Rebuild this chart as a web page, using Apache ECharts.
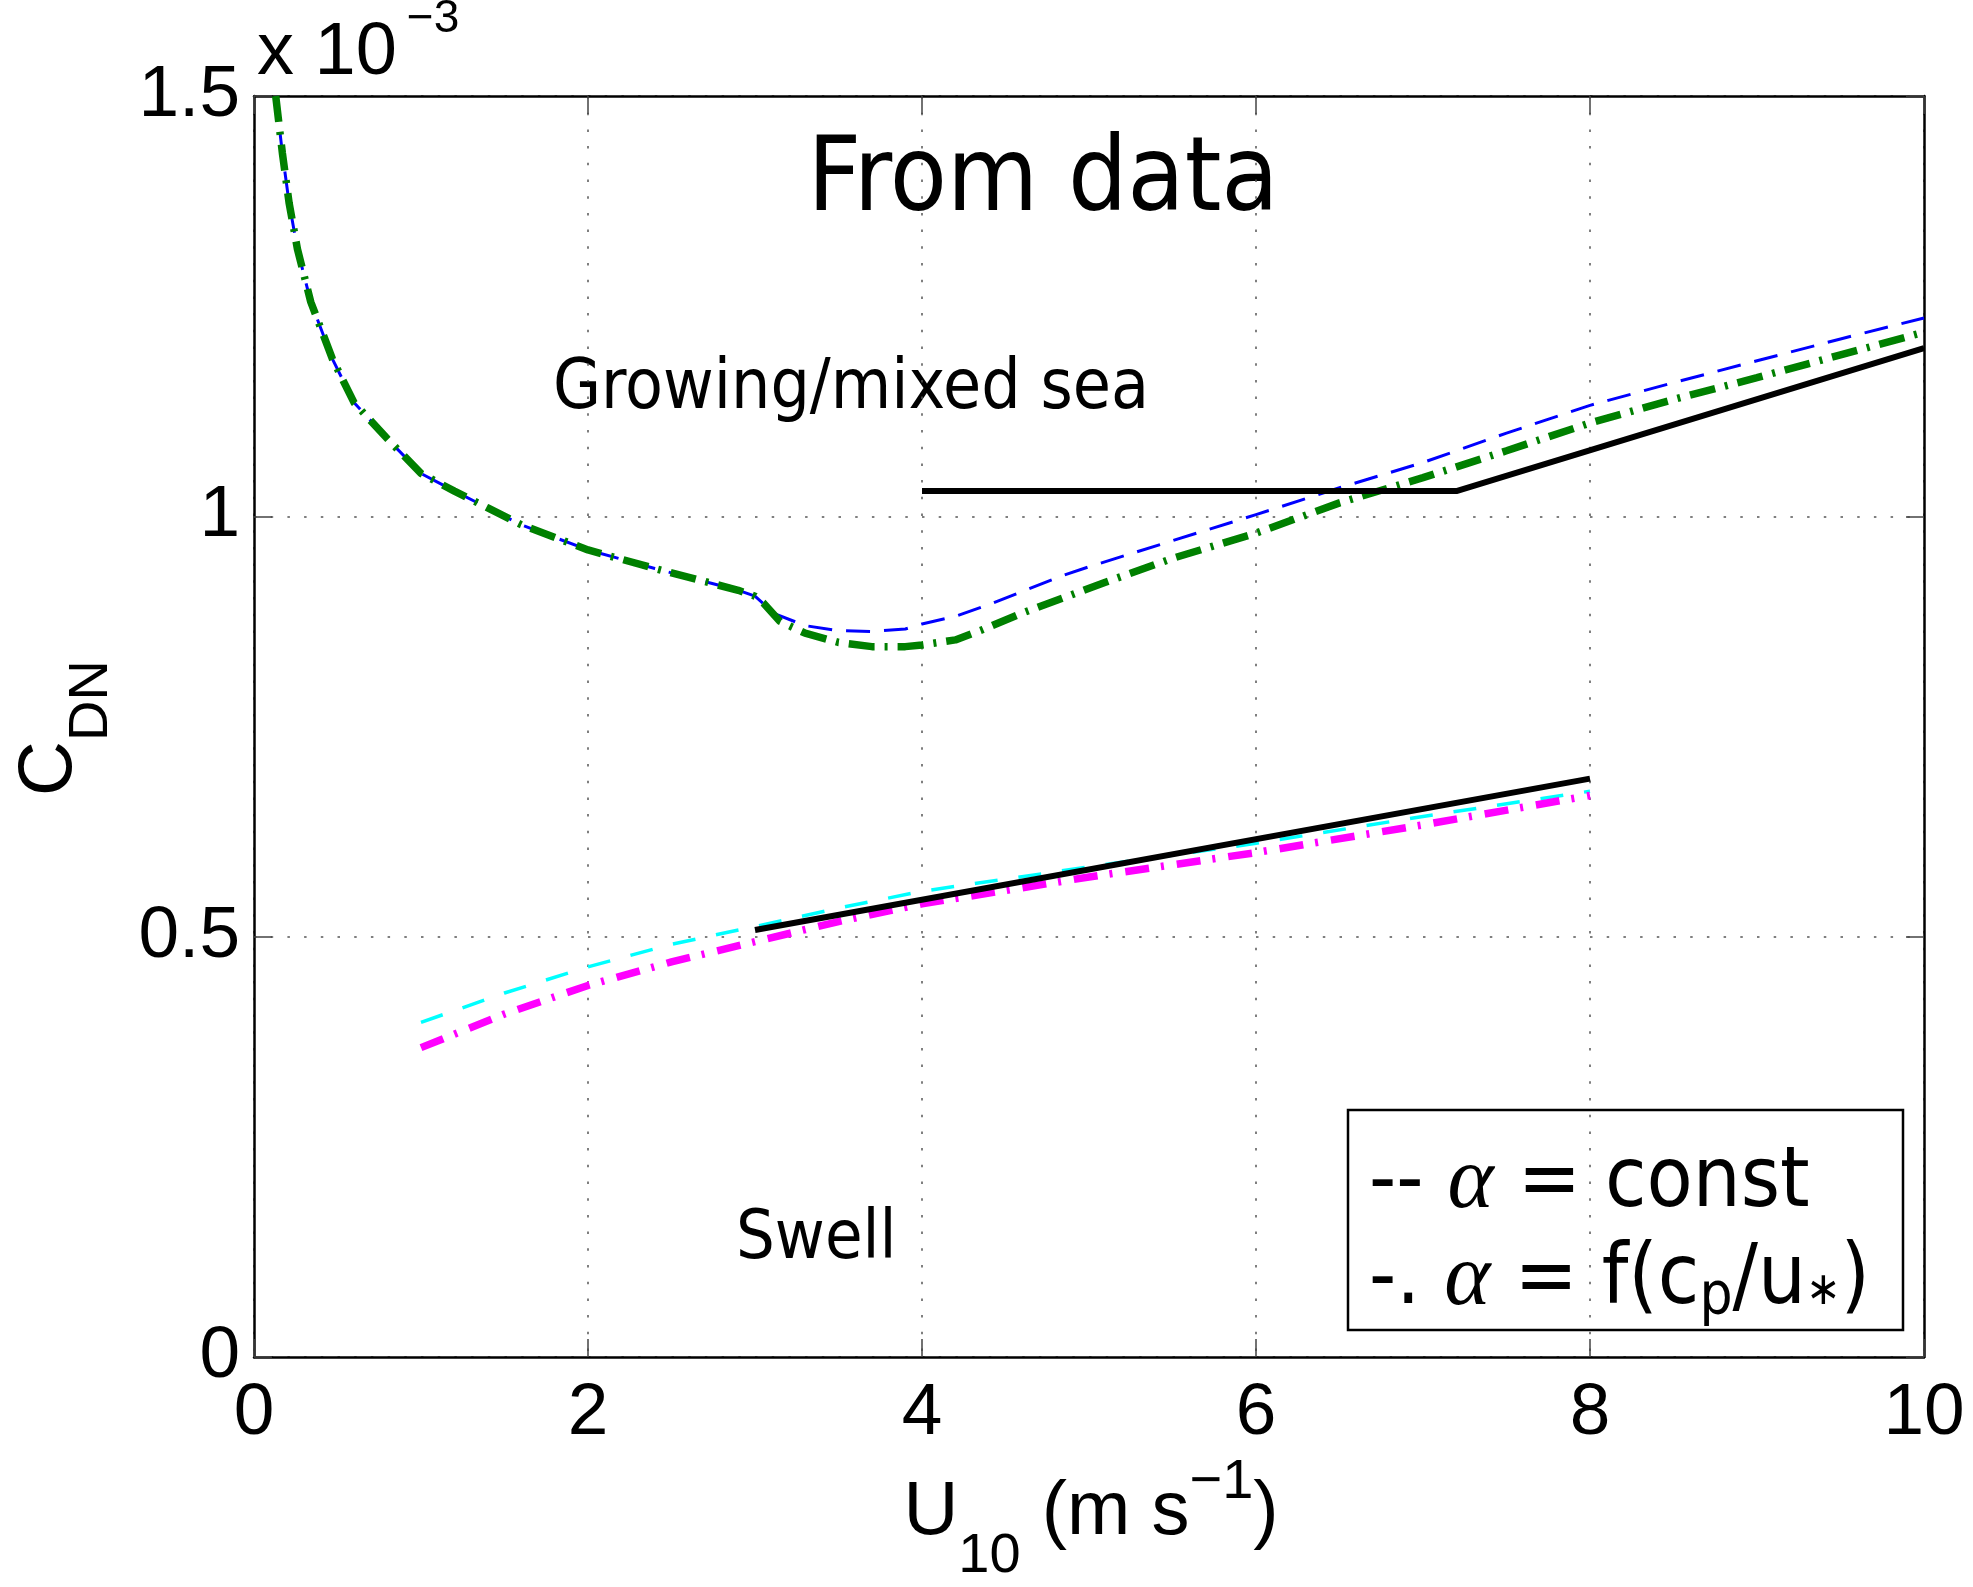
<!DOCTYPE html>
<html>
<head>
<meta charset="utf-8">
<title>CDN from data</title>
<script src="https://cdn.jsdelivr.net/npm/echarts@6/dist/echarts.min.js"></script>
<style>
html, body { margin: 0; padding: 0; background: #fff; }
#container { width: 1973px; height: 1587px; }
</style>
</head>
<body>
<div id="container"></div>
<script>
// U10 (m/s) against neutral drag coefficient CDN (units of 1e-3)
var growConstX = [0.13, 0.17, 0.21, 0.26, 0.34, 0.47, 0.6, 0.8, 1.0, 1.2, 1.4, 1.6, 2.0, 2.4, 2.9, 3.0,
	3.12, 3.3, 3.5, 3.7, 3.9, 4.0, 4.2, 4.4, 4.85, 5.0, 5.5, 6.0, 6.5, 7.0, 7.5, 8.0, 8.5, 9.0, 9.5, 10];
var growConstY = [1.5, 1.432, 1.373, 1.318, 1.255, 1.187, 1.135, 1.092, 1.051, 1.03, 1.01, 0.99, 0.96, 0.938, 0.912, 0.905,
	0.884, 0.87, 0.864, 0.863, 0.866, 0.872, 0.881, 0.895, 0.93, 0.94, 0.971, 1.002, 1.034, 1.064, 1.099, 1.132, 1.159, 1.185, 1.211, 1.236];

var growFuncX = [0.13, 0.17, 0.21, 0.26, 0.34, 0.47, 0.6, 0.8, 1.0, 1.2, 1.4, 1.6, 2.0, 2.4, 2.9, 3.0,
	3.05, 3.15, 3.3, 3.5, 3.7, 3.9, 4.0, 4.2, 4.36, 4.6, 5.09, 5.5, 6.0, 6.5, 7.0, 7.5, 8.0, 8.5, 9.0, 9.5, 10];
var growFuncY = [1.5, 1.432, 1.373, 1.318, 1.255, 1.187, 1.135, 1.092, 1.051, 1.03, 1.01, 0.99, 0.96, 0.938, 0.912, 0.905,
	0.897, 0.875, 0.861, 0.85, 0.845, 0.845, 0.847, 0.853, 0.865, 0.885, 0.921, 0.95, 0.98, 1.016, 1.046, 1.078, 1.111, 1.139, 1.165, 1.192, 1.219];

var growDataX = [4, 7.2, 10];
var growDataY = [1.03, 1.03, 1.2];

var swellX = [1.0, 1.5, 2.0, 2.5, 3.0, 3.5, 4.0, 5.0, 6.0, 7.0, 8.0];
var swellConstY = [0.398, 0.433, 0.464, 0.491, 0.512, 0.534, 0.554, 0.583, 0.611, 0.643, 0.673];
var swellFuncY = [0.368, 0.408, 0.442, 0.47, 0.494, 0.518, 0.539, 0.571, 0.6, 0.633, 0.668];

var swellDataX = [3, 8];
var swellDataY = [0.508, 0.688];

var xTicks = [0, 10, 2];
var yTicks = [0, 1.5, 0.5];

var SANS = '"DejaVu Sans Condensed", "DejaVu Sans", sans-serif';
var HELV = '"Liberation Sans", Arial, sans-serif';

function pairs(xs, ys) {
	var out = [];
	for (var i = 0; i < xs.length; i++) {
		out.push([xs[i], ys[i]]);
	}
	return out;
}

function curve(name, xs, ys, color, width, dash) {
	return {
		name: name,
		type: 'line',
		symbol: 'none',
		smooth: false,
		data: pairs(xs, ys),
		lineStyle: { color: color, width: width, type: dash, cap: 'butt' }
	};
}

var gridDots = { color: '#555', width: 1.5, type: [2.5, 14.2] };
var tickStyle = { show: true, inside: true, length: 18, lineStyle: { color: '#444', width: 1.5 } };
var frame = { show: true, onZero: false, lineStyle: { color: '#000', width: 2.5 } };

var dom = document.getElementById('container');
var myChart = echarts.init(dom);

var option = {
	animation: false,
	backgroundColor: '#fff',
	grid: { left: 254, right: 49, top: 96, bottom: 230 },
	xAxis: [{
		type: 'value', min: xTicks[0], max: xTicks[1], interval: xTicks[2], position: 'bottom',
		axisLine: frame, axisTick: tickStyle,
		axisLabel: { fontSize: 73, fontFamily: HELV, color: '#000', margin: 20 },
		splitLine: { show: true, lineStyle: gridDots }
	}, {
		type: 'value', min: xTicks[0], max: xTicks[1], interval: xTicks[2], position: 'top',
		axisLine: frame, axisTick: tickStyle, axisLabel: { show: false }, splitLine: { show: false }
	}],
	yAxis: [{
		type: 'value', min: yTicks[0], max: yTicks[1], interval: yTicks[2], position: 'left',
		axisLine: frame, axisTick: tickStyle,
		axisLabel: { fontSize: 73, fontFamily: HELV, color: '#000', margin: 14 },
		splitLine: { show: true, lineStyle: gridDots }
	}, {
		type: 'value', min: yTicks[0], max: yTicks[1], interval: yTicks[2], position: 'right',
		axisLine: frame, axisTick: tickStyle, axisLabel: { show: false }, splitLine: { show: false }
	}],
	series: [
		curve('growing, alpha const', growConstX, growConstY, '#0000ff', 3, [24, 14]),
		curve('growing, alpha f', growFuncX, growFuncY, '#008000', 7.5, [26, 10, 3, 10]),
		curve('swell, alpha const', swellX, swellConstY, '#00ffff', 3.5, [23, 21]),
		curve('swell, alpha f', swellX, swellFuncY, '#ff00ff', 7.5, [24, 12, 3, 13]),
		curve('growing data', growDataX, growDataY, '#000', 6, 'solid'),
		curve('swell data', swellDataX, swellDataY, '#000', 6, 'solid')
	],
	graphic: [
		{
			type: 'text', x: 1043, y: 183,
			style: { text: 'From data', font: '104px ' + SANS, fill: '#000', textAlign: 'center', textVerticalAlign: 'middle' }
		},
		{
			type: 'text', x: 553, y: 390,
			style: { text: 'Growing/mixed sea', font: '69px ' + SANS, fill: '#000', textAlign: 'left', textVerticalAlign: 'middle' }
		},
		{
			type: 'text', x: 736, y: 1240,
			style: { text: 'Swell', font: '68px ' + SANS, fill: '#000', textAlign: 'left', textVerticalAlign: 'middle' }
		},
		{
			type: 'text', x: 257, y: 54,
			style: {
				text: '{m|x 10}{p|\u22123}', fill: '#000', textAlign: 'left', textVerticalAlign: 'middle',
				rich: {
					m: { fontSize: 74, fontFamily: HELV, lineHeight: 74 },
					p: { fontSize: 46, fontFamily: HELV, lineHeight: 46, padding: [0, 0, 70, 10] }
				}
			}
		},
		{
			type: 'text', x: 50, y: 728, rotation: Math.PI / 2,
			style: {
				text: '{c|C}{d|DN}', fill: '#000', textAlign: 'center', textVerticalAlign: 'middle',
				rich: {
					c: { fontSize: 76, fontFamily: HELV, lineHeight: 76 },
					d: { fontSize: 56, fontFamily: HELV, lineHeight: 56, padding: [84, 0, 0, 0] }
				}
			}
		},
		{
			type: 'text', x: 1091, y: 1513,
			style: {
				text: '{m|U}{s|10}{m| (m s}{p|\u22121}{m|)}', fill: '#000', textAlign: 'center', textVerticalAlign: 'middle',
				rich: {
					m: { fontSize: 76, fontFamily: HELV, lineHeight: 76 },
					s: { fontSize: 56, fontFamily: HELV, lineHeight: 56, padding: [88, 0, 0, 0] },
					p: { fontSize: 56, fontFamily: HELV, lineHeight: 56, padding: [0, 0, 60, 0] }
				}
			}
		},
		{
			type: 'rect', shape: { x: 1348, y: 1110, width: 555, height: 220 },
			style: { fill: 'none', stroke: '#000', lineWidth: 2.5 }
		},
		{
			type: 'text', x: 1369, y: 1184,
			style: {
				text: '{n|-- }{a|\u03b1}{n| = const}', fill: '#000', textAlign: 'left', textVerticalAlign: 'middle',
				rich: {
					n: { fontSize: 84, fontFamily: SANS, lineHeight: 84 },
					a: { fontSize: 88, fontFamily: '"Liberation Serif", serif', fontStyle: 'italic', lineHeight: 88 }
				}
			}
		},
		{
			type: 'text', x: 1369, y: 1281,
			style: {
				text: '{n|-. }{a|\u03b1}{n| = f(c}{s|p}{n|/u}{t|\u2217}{n|)}', fill: '#000', textAlign: 'left', textVerticalAlign: 'middle',
				rich: {
					n: { fontSize: 84, fontFamily: SANS, lineHeight: 84 },
					a: { fontSize: 88, fontFamily: '"Liberation Serif", serif', fontStyle: 'italic', lineHeight: 88 },
					s: { fontSize: 58, fontFamily: SANS, lineHeight: 58, padding: [36, 0, 0, 0] },
					t: { fontSize: 46, fontFamily: SANS, lineHeight: 46, padding: [22, 0, 0, 0] }
				}
			}
		}
	]
};

if (option && typeof option === 'object') {
	myChart.setOption(option, true);
}
</script>
</body>
</html>
